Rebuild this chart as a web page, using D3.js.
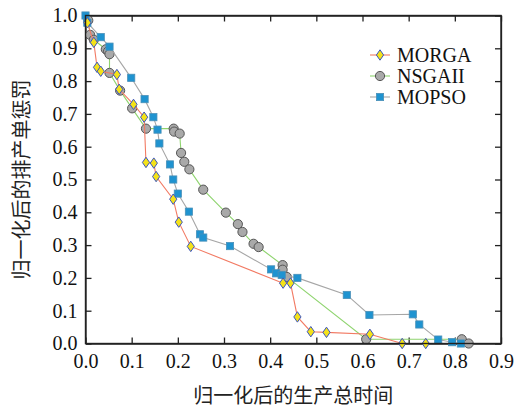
<!doctype html>
<html>
<head>
  <meta charset="utf-8">
  <title>Pareto front</title>
  <style>
    body { margin: 0; background: #fff; }
    svg { display: block; }
    .axis path, .axis line { stroke: #222; stroke-width: 1.3; }
    .num { font-family: "Liberation Serif", "DejaVu Serif", "Noto Serif", "FreeSerif", serif !important; font-size: 20px; }
    .cn { font-family: "Noto Sans CJK SC", sans-serif; font-size: 20px; fill: #222; }
  </style>
</head>
<body>
  <svg></svg>
  <script src="https://cdnjs.cloudflare.com/ajax/libs/d3/7.8.5/d3.min.js"></script>
  <script>
  // values
  var morgaX = [0.004, 0.018, 0.025, 0.033, 0.068, 0.073, 0.104, 0.127, 0.131, 0.148, 0.153, 0.19, 0.202, 0.228, 0.428, 0.444, 0.459, 0.488, 0.522, 0.616, 0.686, 0.737];
  var morgaY = [0.978, 0.918, 0.842, 0.83, 0.82, 0.775, 0.729, 0.69, 0.552, 0.55, 0.509, 0.44, 0.37, 0.296, 0.184, 0.184, 0.081, 0.036, 0.034, 0.028, 0.0, 0.0];

  var nsgaX = [0.006, 0.01, 0.018, 0.044, 0.049, 0.052, 0.052, 0.075, 0.101, 0.131, 0.191, 0.192, 0.204, 0.207, 0.214, 0.225, 0.255, 0.304, 0.33, 0.34, 0.364, 0.375, 0.427, 0.427, 0.436, 0.608, 0.815, 0.83];
  var nsgaY = [0.985, 0.941, 0.926, 0.897, 0.891, 0.882, 0.825, 0.771, 0.717, 0.655, 0.655, 0.646, 0.64, 0.581, 0.554, 0.531, 0.469, 0.399, 0.364, 0.34, 0.304, 0.294, 0.239, 0.225, 0.203, 0.013, 0.013, 0.0];

  var mopsoX = [0.0, 0.004, 0.033, 0.052, 0.099, 0.128, 0.147, 0.156, 0.16, 0.183, 0.19, 0.2, 0.224, 0.248, 0.255, 0.313, 0.402, 0.413, 0.425, 0.459, 0.566, 0.615, 0.709, 0.723, 0.764, 0.794, 0.813];
  var mopsoY = [1.0, 0.978, 0.934, 0.905, 0.81, 0.745, 0.69, 0.652, 0.61, 0.546, 0.5, 0.457, 0.402, 0.333, 0.323, 0.297, 0.226, 0.214, 0.209, 0.2, 0.148, 0.087, 0.089, 0.058, 0.012, 0.004, 0.0];

  var xTicks = [0, 0.1, 0.2, 0.3, 0.4, 0.5, 0.6, 0.7, 0.8, 0.9];
  var yTicks = [0, 0.1, 0.2, 0.3, 0.4, 0.5, 0.6, 0.7, 0.8, 0.9, 1.0];
  var names = ["MORGA", "NSGAII", "MOPSO"];

  var width = 518, height = 411;
  var margin = { top: 15.5, right: 17, bottom: 67.5, left: 85.5 };
  var w = width - margin.left - margin.right,
      h = height - margin.top - margin.bottom;

  var svg = d3.select("svg").attr("width", width).attr("height", height);
  var g = svg.append("g").attr("transform", "translate(" + margin.left + "," + margin.top + ")");

  var x = d3.scaleLinear().domain([0, 0.9]).range([0, w]);
  var y = d3.scaleLinear().domain([0, 1.0]).range([h, 0]);
  var fmt = d3.format(".1f");

  function styleAxis(a) {
    a.attr("font-family", null).attr("font-size", null);
    a.selectAll(".tick text").attr("class", "num").attr("fill", "#111");
  }

  g.append("g").attr("class", "axis").attr("transform", "translate(0," + h + ")")
    .call(d3.axisBottom(x).tickValues(xTicks).tickFormat(fmt).tickSize(-6).tickSizeOuter(0).tickPadding(10))
    .call(styleAxis);
  g.append("g").attr("class", "axis")
    .call(d3.axisLeft(y).tickValues(yTicks).tickFormat(fmt).tickSize(-6).tickSizeOuter(0).tickPadding(8))
    .call(styleAxis);
  g.append("g").attr("class", "axis")
    .call(d3.axisTop(x).tickValues(xTicks).tickFormat("").tickSize(-6).tickSizeOuter(0));
  g.append("g").attr("class", "axis").attr("transform", "translate(" + w + ",0)")
    .call(d3.axisRight(y).tickValues(yTicks).tickFormat("").tickSize(-6).tickSizeOuter(0));

  var series = [
    { name: names[1], xs: nsgaX, ys: nsgaY, line: "#8fd46f", shape: "circle" },
    { name: names[2], xs: mopsoX, ys: mopsoY, line: "#a6a6a6", shape: "square" },
    { name: names[0], xs: morgaX, ys: morgaY, line: "#f27a63", shape: "diamond" }
  ];

  function marker(sel, shape) {
    if (shape == "circle") {
      sel.append("circle").attr("r", 4.6)
        .attr("fill", "#a9a9a9").attr("stroke", "#555").attr("stroke-width", 1);
    } else if (shape == "square") {
      sel.append("rect").attr("x", -3.6).attr("y", -3.6).attr("width", 7.2).attr("height", 7.2)
        .attr("fill", "#1f93d0").attr("stroke", "#4a90b8").attr("stroke-width", 0.8);
    } else {
      sel.append("path").attr("d", "M0,-5.2L3.6,0L0,5.2L-3.6,0Z")
        .attr("fill", "#f4e21a").attr("stroke", "#3b55c0").attr("stroke-width", 1);
    }
  }

  var line = d3.line().x(function(d) { return x(d[0]); }).y(function(d) { return y(d[1]); });

  series.forEach(function(s) {
    var pts = s.xs.map(function(v, i) { return [v, s.ys[i]]; });
    var sg = g.append("g");
    sg.append("path").datum(pts).attr("d", line)
      .attr("fill", "none").attr("stroke", s.line).attr("stroke-width", 1.1);
    sg.selectAll("g.pt").data(pts).enter().append("g").attr("class", "pt")
      .attr("transform", function(d) { return "translate(" + x(d[0]) + "," + y(d[1]) + ")"; })
      .each(function() { marker(d3.select(this), s.shape); });
  });

  // frame
  g.append("rect").attr("width", w).attr("height", h)
    .attr("fill", "none").attr("stroke", "#222").attr("stroke-width", 1.4);

  // legend
  var legOrder = [series[2], series[0], series[1]];
  var leg = svg.append("g").attr("transform", "translate(370,55)");
  legOrder.forEach(function(s, i) {
    var row = leg.append("g").attr("transform", "translate(0," + (i * 21) + ")");
    row.append("line").attr("x1", 0).attr("x2", 20).attr("stroke", s.line).attr("stroke-width", 1.1);
    var m = row.append("g").attr("transform", "translate(10,0)");
    marker(m, s.shape);
    row.append("text").attr("class", "num").attr("x", 27).attr("dy", "0.35em")
      .attr("fill", "#111").text(s.name);
  });

  // axis titles
  svg.append("text").attr("class", "cn").attr("text-anchor", "middle")
    .attr("x", margin.left + w / 2).attr("y", 403).text("归一化后的生产总时间");
  svg.append("text").attr("class", "cn").attr("text-anchor", "middle")
    .attr("transform", "translate(29," + (margin.top + h / 2) + ") rotate(-90)")
    .text("归一化后的排产单惩罚");
  </script>
</body>
</html>
